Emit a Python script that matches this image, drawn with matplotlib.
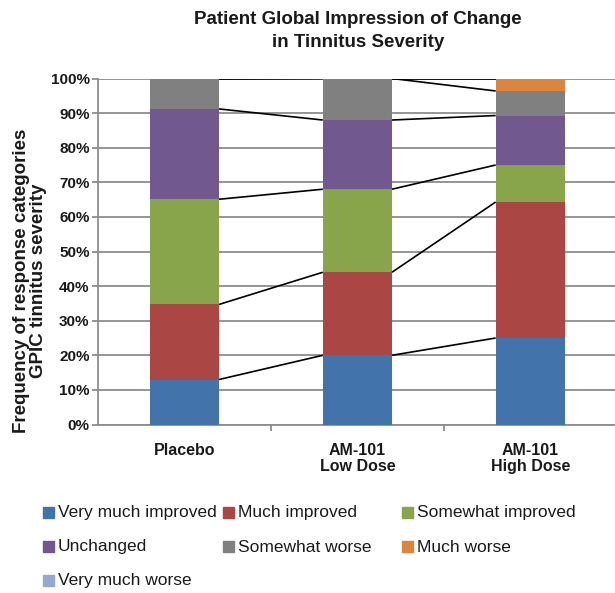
import numpy as np
import matplotlib.pyplot as plt
from matplotlib.patches import Rectangle

# data (percent of patients per category)
groups = ['Placebo', 'AM-101\nLow Dose', 'AM-101\nHigh Dose']
categories = ['Very much improved', 'Much improved', 'Somewhat improved',
              'Unchanged', 'Somewhat worse', 'Much worse', 'Very much worse']
very_much_improved = [13.0, 20.0, 25.0]
much_improved = [21.7, 24.0, 39.3]
somewhat_improved = [30.4, 24.0, 10.7]
unchanged = [26.1, 20.0, 14.3]
somewhat_worse = [8.7, 12.0, 7.1]
much_worse = [0.0, 0.0, 3.6]
very_much_worse = [0.0, 0.0, 0.0]

series = [very_much_improved, much_improved, somewhat_improved, unchanged,
          somewhat_worse, much_worse, very_much_worse]
colors = ['#4273AA', '#AA4644', '#89A54C', '#71588F', '#808080', '#DC853D', '#93A9D0']

plt.rcParams['font.family'] = ['Liberation Sans', 'DejaVu Sans']
plt.rcParams['text.color'] = '#1A1A1A'
plt.rcParams['xtick.color'] = '#1A1A1A'
plt.rcParams['ytick.color'] = '#1A1A1A'

W, H = 615, 593
fig = plt.figure(figsize=(W / 100, H / 100), dpi=100)
ax = fig.add_axes([98 / W, (H - 424.5) / H, (W - 98) / W, (424.5 - 78.5) / H])

x = np.arange(len(groups))
bw = 0.4
bottom = np.zeros(len(groups))
tops = []
for vals, col in zip(series, colors):
    vals = np.array(vals)
    ax.bar(x, vals, bw, bottom=bottom, color=col, zorder=3)
    bottom = bottom + vals
    tops.append(bottom.copy())

# series lines between stacked bars
for t in tops[:-1]:
    for i in range(len(groups) - 1):
        ax.plot([x[i] + bw / 2, x[i + 1] - bw / 2], [t[i], t[i + 1]],
                color='black', lw=1.2, zorder=4, solid_capstyle='butt')

ax.set_xlim(-0.5, 2.49)
ax.set_ylim(0, 100)
ax.set_yticks(np.arange(0, 101, 10))
ax.set_yticklabels([f'{v}%' for v in range(0, 101, 10)], fontsize=11,
                   fontweight='bold')
ax.yaxis.grid(True, color='#8C8C8C', lw=1.3, zorder=0)
ax.set_axisbelow(True)

ax.set_xticks(x)
ax.set_xticklabels(groups, fontsize=11.5, fontweight='bold', linespacing=1.1)
ax.set_xticks([0.5, 1.5], minor=True)
ax.tick_params(axis='x', which='major', length=0, pad=13)
ax.tick_params(axis='x', which='minor', length=4, color='#8C8C8C', width=1.3)
ax.tick_params(axis='y', length=4.5, color='#8C8C8C', width=1.3, pad=1.5)

for s in ['top', 'right']:
    ax.spines[s].set_visible(False)
for s in ['left', 'bottom']:
    ax.spines[s].set_color('#8C8C8C')
    ax.spines[s].set_linewidth(1.3)

fig.text(30 / W, 1 - 281 / H,
         'Frequency of response categories\nGPIC tinnitus severity',
         rotation=90, ha='center', va='center', fontsize=13.5,
         fontweight='bold', linespacing=1.0, rotation_mode='anchor')

fig.text(358 / W, 1 - 11 / H, 'Patient Global Impression of Change\nin Tinnitus Severity',
         ha='center', va='top', fontsize=13.5, fontweight='bold', linespacing=1.45)

# legend, row-wise like the original
for i, (name, col) in enumerate(zip(categories, colors)):
    r, c = divmod(i, 3)
    xm = 43 + c * 179.5
    ym = 512 + r * 34
    fig.patches.append(Rectangle((xm / W, 1 - (ym + 5.5) / H), 11 / W, 11 / H,
                                 transform=fig.transFigure, color=col))
    fig.text((xm + 15) / W, 1 - (ym + 5.5) / H, name, ha='left', va='baseline',
             fontsize=12.5)

fig.savefig('out.png', dpi=100)
